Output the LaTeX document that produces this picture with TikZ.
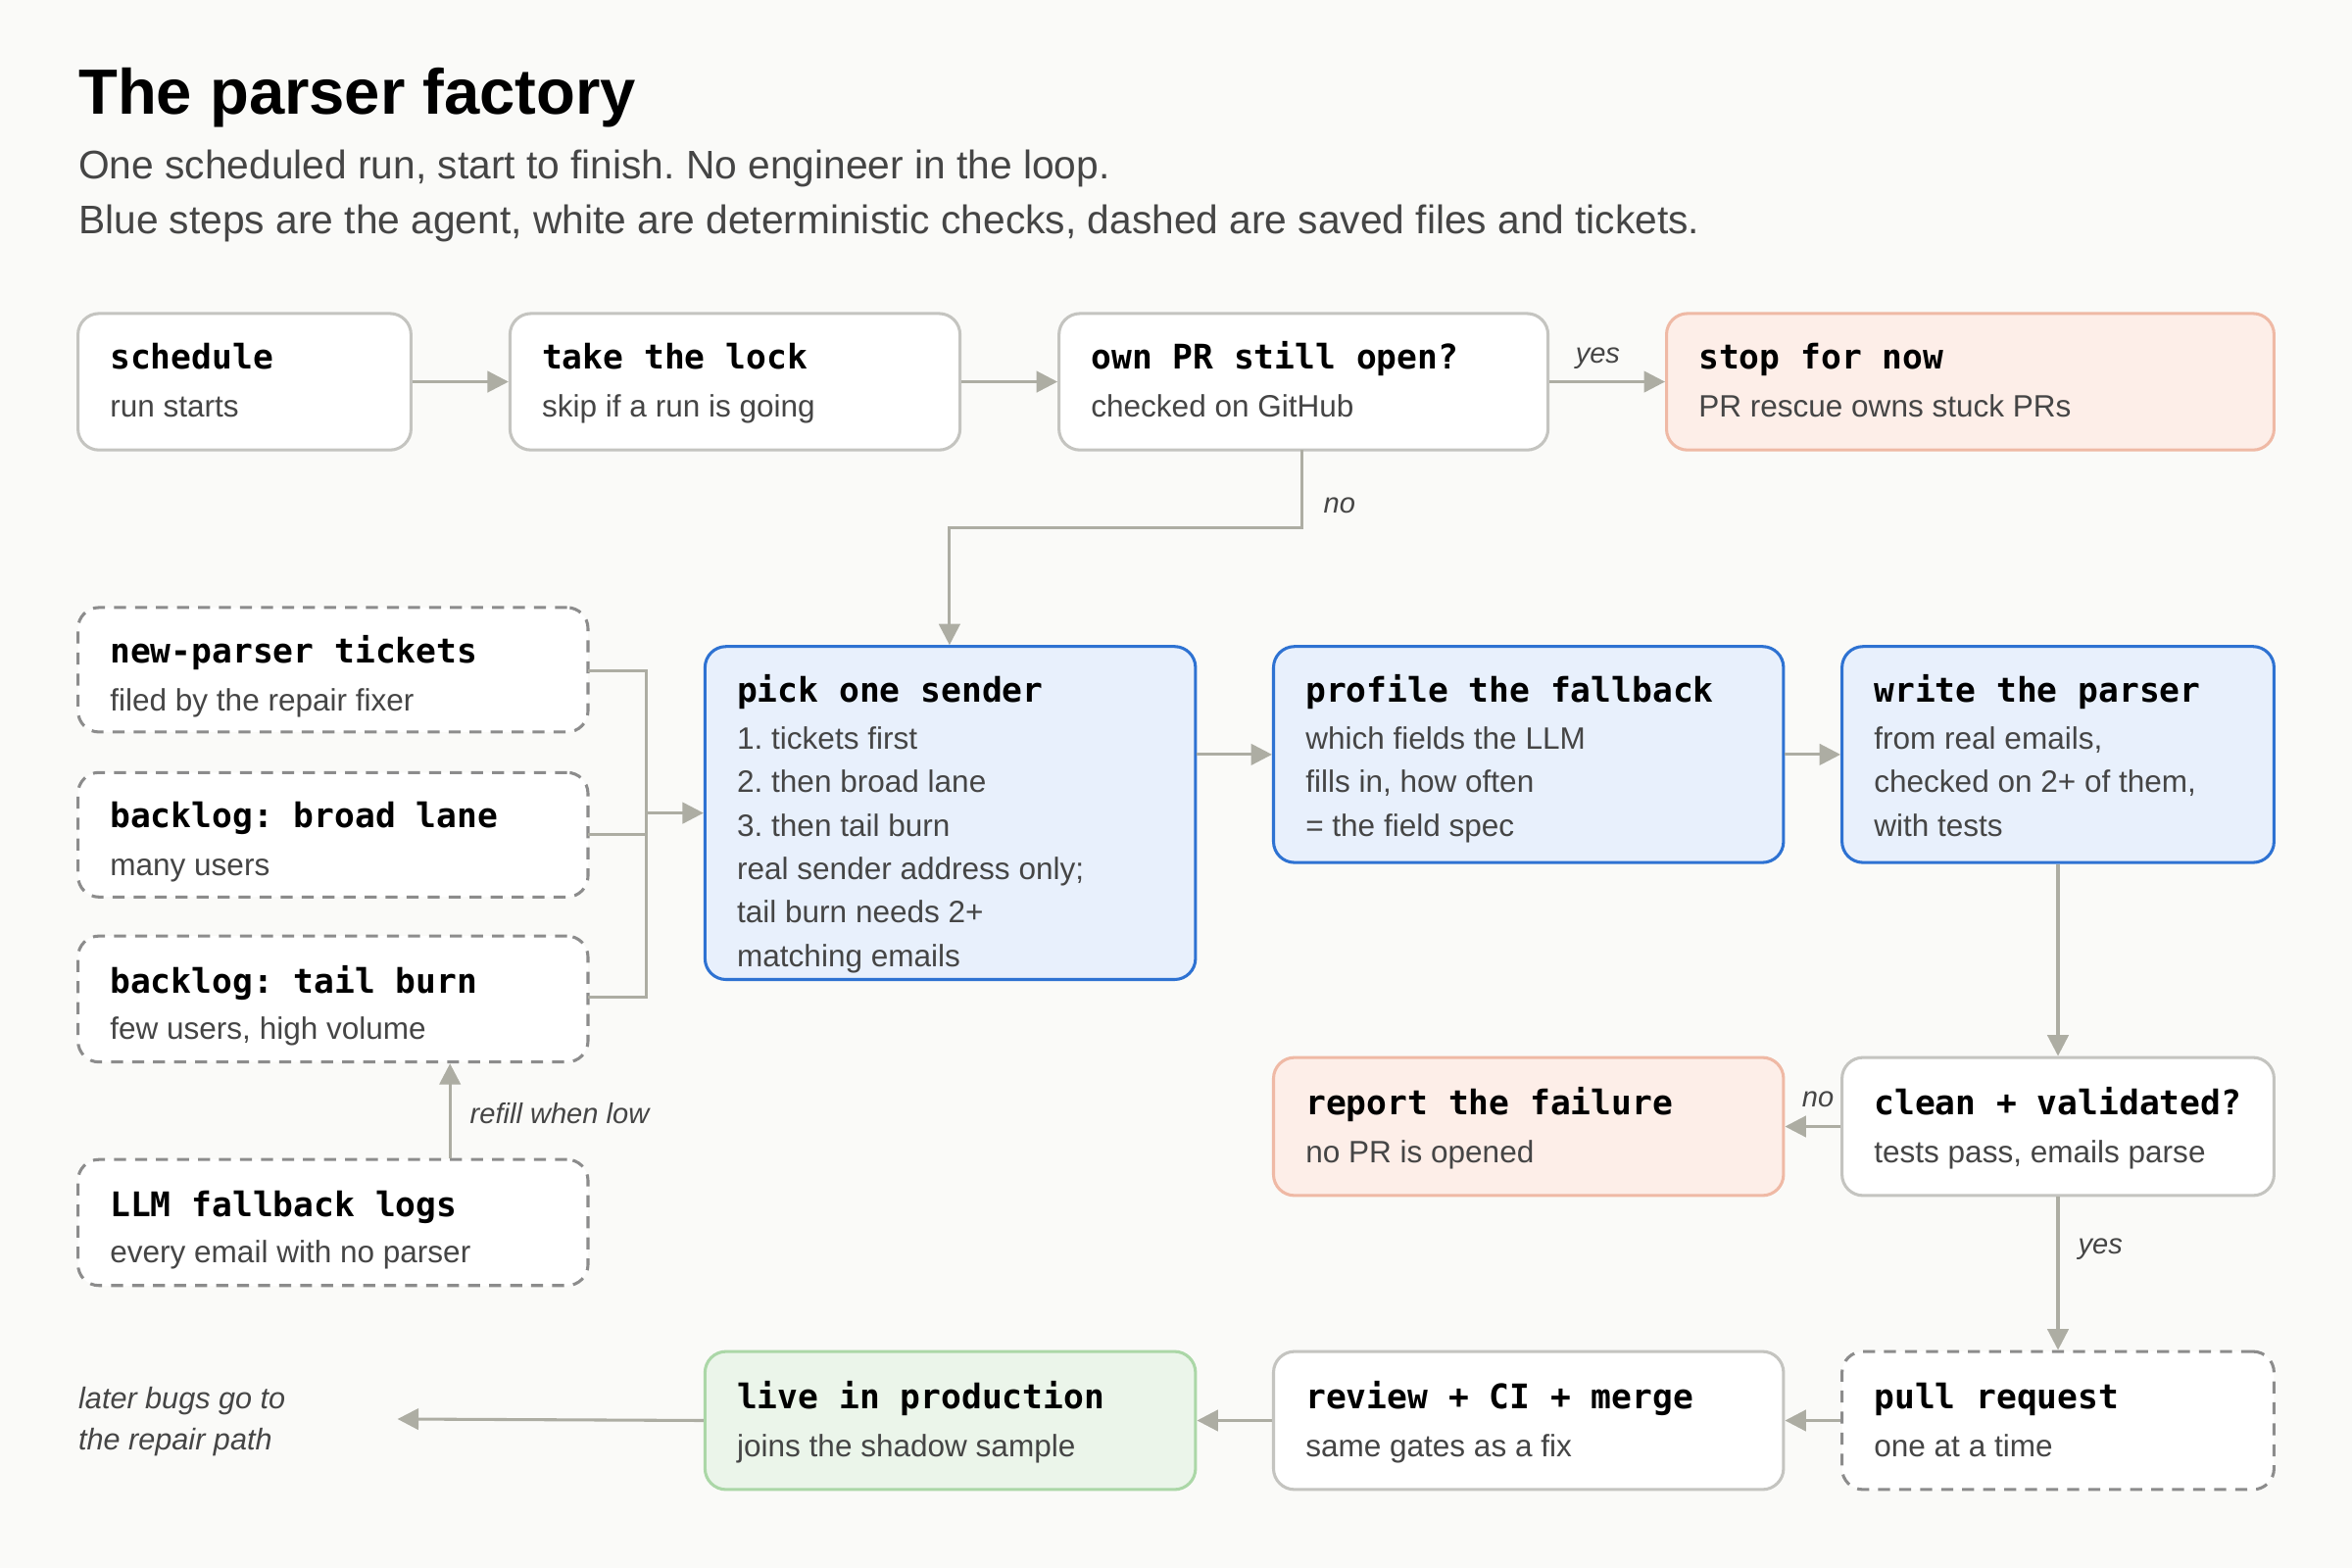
\documentclass[tikz,border=0pt]{standalone}
\usepackage{fontspec}
\setmainfont{Liberation Sans}
\newfontfamily\mono{DejaVu Sans Mono}
\usetikzlibrary{arrows.meta}
\definecolor{bg}{HTML}{FAFAF8}
\definecolor{ar}{HTML}{ADADA3}
\definecolor{wb}{HTML}{C4C4C0}
\definecolor{db}{HTML}{8C8C8C}
\definecolor{blf}{HTML}{E8F0FC}
\definecolor{blb}{HTML}{2E72D2}
\definecolor{saf}{HTML}{FDEEE8}
\definecolor{sab}{HTML}{EFB9A5}
\definecolor{grf}{HTML}{EBF5EA}
\definecolor{grb}{HTML}{ABD7A7}
\definecolor{tx}{HTML}{454545}
\frenchspacing
\tikzset{
 box/.style={draw=wb,fill=white,line width=1pt,rounded corners=7pt,inner sep=0pt},
 dbox/.style={box,draw=db,dash pattern=on 4pt off 3pt},
 bbox/.style={box,draw=blb,fill=blf},
 sbox/.style={box,draw=sab,fill=saf},
 gbox/.style={box,draw=grb,fill=grf},
 hd/.style={anchor=base west,inner sep=0pt,font=\mono\bfseries\fontsize{11.3pt}{13pt}\selectfont},
 ds/.style={anchor=base west,inner sep=0pt,text=tx,font=\fontsize{10.3pt}{12pt}\selectfont},
 ml/.style={ds,align=left,anchor=north west,font=\fontsize{10.3pt}{14.5pt}\selectfont},
 lb/.style={anchor=base west,inner sep=0pt,text=tx,font=\itshape\fontsize{9.5pt}{11pt}\selectfont},
 arr/.style={draw=ar,line width=1pt,-{Triangle[length=7pt,width=7pt]}},
 ln/.style={draw=ar,line width=1pt},
}
\newcommand{\bx}[6]{\node[#2,minimum width={(#5-#3)*0.5pt},minimum height={(#6-#4)*0.5pt}] (#1) at ({(#3+#5)/2},{(#4+#6)/2}) {};}
\begin{document}
\begin{tikzpicture}[x=0.5pt,y=-0.5pt]
\fill[bg] (0,0) rectangle (1568,1045);
\useasboundingbox (0,0) rectangle (1568,1045);
\node[anchor=base west,inner sep=0pt,font=\bfseries\fontsize{21.3pt}{24pt}\selectfont] (title) at (52,76) {The parser factory};
\node[anchor=base west,inner sep=0pt,text=tx,font=\fontsize{13.3pt}{15pt}\selectfont] (sub1) at (52,119) {One scheduled run, start to finish. No engineer in the loop.};
\node[anchor=base west,inner sep=0pt,text=tx,font=\fontsize{13.3pt}{15pt}\selectfont] (sub2) at (52,156) {Blue steps are the agent, white are deterministic checks, dashed are saved files and tickets.};

\bx{sched}{box}{52}{209}{274}{300}
\bx{lock}{box}{340}{209}{640}{300}
\bx{own}{box}{706}{209}{1032}{300}
\bx{stop}{sbox}{1111}{209}{1516}{300}
\bx{tick}{dbox}{52}{405}{392}{488}
\bx{broad}{dbox}{52}{515}{392}{598}
\bx{tail}{dbox}{52}{624}{392}{708}
\bx{logs}{dbox}{52}{773}{392}{857}
\bx{pick}{bbox}{470}{431}{797}{653}
\bx{prof}{bbox}{849}{431}{1189}{575}
\bx{write}{bbox}{1228}{431}{1516}{575}
\bx{rep}{sbox}{849}{705}{1189}{797}
\bx{clean}{box}{1228}{705}{1516}{797}
\bx{pr}{dbox}{1228}{901}{1516}{993}
\bx{rev}{box}{849}{901}{1189}{993}
\bx{live}{gbox}{470}{901}{797}{993}

\node[hd] (t1) at (73,246) {schedule};
\node[ds] (d1) at (73,278) {run starts};
\node[hd] (t2) at (361,246) {take the lock};
\node[ds] (d2) at (361,278) {skip if a run is going};
\node[hd] (t3) at (727,246) {own PR still open?};
\node[ds] (d3) at (727,278) {checked on GitHub};
\node[hd] (t4) at (1132,246) {stop for now};
\node[ds] (d4) at (1132,278) {PR rescue owns stuck PRs};
\node[hd] (t5) at (73,442) {new-parser tickets};
\node[ds] (d5) at (73,474) {filed by the repair fixer};
\node[hd] (t6) at (73,552) {backlog: broad lane};
\node[ds] (d6) at (73,584) {many users};
\node[hd] (t7) at (73,662) {backlog: tail burn};
\node[ds] (d7) at (73,693) {few users, high volume};
\node[hd] (t8) at (73,811) {LLM fallback logs};
\node[ds] (d8) at (73,842) {every email with no parser};
\node[hd] (t9) at (491,468) {pick one sender};
\node[ml] (d9) at (491,484) {1. tickets first\\2. then broad lane\\3. then tail burn\\real sender address only;\\tail burn needs 2+\\matching emails};
\node[hd] (t10) at (870,468) {profile the fallback};
\node[ml] (d10) at (870,484) {which fields the LLM\\fills in, how often\\= the field spec};
\node[hd] (t11) at (1249,468) {write the parser};
\node[ml] (d11) at (1249,484) {from real emails,\\checked on 2+ of them,\\with tests};
\node[hd] (t12) at (870,743) {report the failure};
\node[ds] (d12) at (870,775) {no PR is opened};
\node[hd] (t13) at (1249,743) {clean + validated?};
\node[ds] (d13) at (1249,775) {tests pass, emails parse};
\node[hd] (t14) at (1249,939) {pull request};
\node[ds] (d14) at (1249,971) {one at a time};
\node[hd] (t15) at (870,939) {review + CI + merge};
\node[ds] (d15) at (870,971) {same gates as a fix};
\node[hd] (t16) at (491,939) {live in production};
\node[ds] (d16) at (491,971) {joins the shadow sample};
\node[lb,font=\itshape\fontsize{10pt}{14pt}\selectfont,align=left,anchor=north west] (later) at (52,924) {later bugs go to\\the repair path};
\coordinate (lend) at (265,946);

\draw[arr] (sched.east) -- (lock.west);
\draw[arr] (lock.east) -- (own.west);
\draw[arr] (own.east) -- (stop.west);
\node[lb] (yes1) at (1050,242) {yes};
\draw[arr] (868,300) -- (868,352) -- (633,352) -- (pick.north -| 633,0);
\node[lb] (no1) at (882,342) {no};
\draw[ln] (392,447) -- (431,447) -- (431,665) -- (392,665);
\draw[ln] (392,556) -- (431,556);
\draw[arr] (431,542) -- (pick.west |- 0,542);
\draw[arr] (logs.north -| 300,0) -- (tail.south -| 300,0);
\node[lb] (refill) at (313,749) {refill when low};
\draw[arr] (pick.east |- 0,503) -- (prof.west |- 0,503);
\draw[arr] (prof.east |- 0,503) -- (write.west |- 0,503);
\draw[arr] (write.south -| 1372,0) -- (clean.north -| 1372,0);
\draw[arr] (clean.west) -- (rep.east);
\node[lb] (no2) at (1201,738) {no};
\draw[arr] (clean.south -| 1372,0) -- (pr.north -| 1372,0);
\node[lb] (yes2) at (1385,836) {yes};
\draw[arr] (pr.west) -- (rev.east);
\draw[arr] (rev.west) -- (live.east);
\draw[arr] (live.west) -- (lend);
\end{tikzpicture}
\end{document}
